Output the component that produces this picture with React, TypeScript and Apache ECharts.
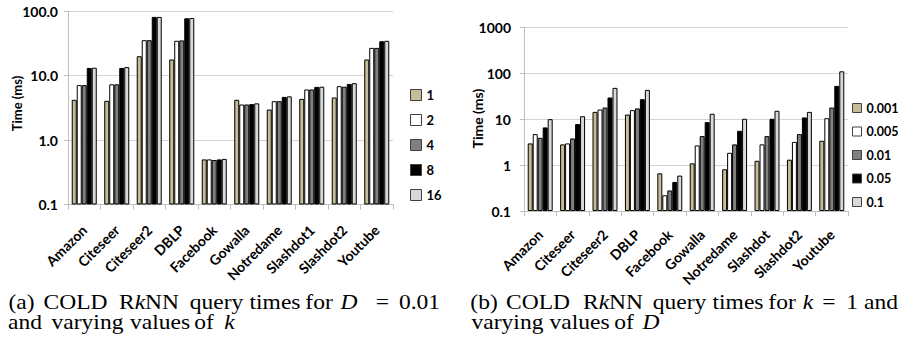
import React, { useEffect, useRef } from 'react';
import * as echarts from 'echarts';

const categoriesA = ['Amazon', 'Citeseer', 'Citeseer2', 'DBLP', 'Facebook', 'Gowalla', 'Notredame', 'Slashdot1', 'Slashdot2', 'Youtube'];
const namesA = ['1', '2', '4', '8', '16'];
const kEq1 = [4.2, 4.05, 19.9, 17.7, 0.5, 4.2, 2.97, 4.34, 4.56, 17.7];
const kEq2 = [7.1, 7.3, 35.3, 34.5, 0.5, 3.55, 4.0, 6.07, 6.83, 26.8];
const kEq4 = [7.1, 7.3, 35.3, 35.0, 0.49, 3.55, 4.0, 6.07, 6.7, 26.8];
const kEq8 = [13.1, 13.1, 81, 77, 0.5, 3.6, 4.66, 6.66, 7.4, 34];
const kEq16 = [13.2, 13.5, 81, 78, 0.51, 3.7, 4.75, 6.7, 7.6, 34.5];

const categoriesB = ['Amazon', 'Citeseer', 'Citeseer2', 'DBLP', 'Facebook', 'Gowalla', 'Notredame', 'Slashdot', 'Slashdot2', 'Youtube'];
const namesB = ['0.001', '0.005', '0.01', '0.05', '0.1'];
const dEq001 = [2.96, 2.82, 14.4, 12.6, 0.66, 1.09, 0.81, 1.24, 1.31, 3.38];
const dEq005 = [4.72, 2.96, 16.2, 15.7, 0.22, 2.68, 1.85, 2.82, 3.2, 10.5];
const dEq01 = [3.93, 3.8, 17.9, 17.1, 0.28, 4.27, 2.82, 4.27, 4.72, 17.9];
const dEq05 = [6.6, 7.8, 29.6, 27.2, 0.43, 8.6, 5.57, 10.2, 10.9, 53];
const dEq1 = [10, 11.6, 48, 43.4, 0.59, 13.1, 10.2, 15.2, 14.4, 110];

const ticksA = ['0.1', '1.0', '10.0', '100.0'];
const ticksB = ['0.1', '1', '10', '100', '1000'];

const seriesA = [kEq1, kEq2, kEq4, kEq8, kEq16];
const seriesB = [dEq001, dEq005, dEq01, dEq05, dEq1];
const colors = ['#c4bd97', '#ffffff', '#808080', '#000000', '#d9d9d9'];

const labelFont = 'Lato, "Open Sans", sans-serif';
const serif = '"Liberation Serif", serif';
const capSize = 21;

// caption words: [text (rich markup), centre x]
const captionA1: [string, number][] = [
  ['(a)', 21.5], ['COLD', 75.5], ['R{i|k}NN', 149], ['query', 216.5], ['times', 275], ['for', 319], ['{i|D}', 349], ['=', 382.5], ['0.01', 419.5],
];
const captionA2: [string, number][] = [['and', 25], ['varying', 87.5], ['values', 160], ['of', 204], ['{i|k}', 229.5]];
const captionB1: [string, number][] = [
  ['(b)', 484], ['COLD', 538], ['R{i|k}NN', 613], ['query', 679.5], ['times', 738], ['for', 782], ['{i|k}', 808], ['=', 829], ['1', 852], ['and', 881],
];
const captionB2: [string, number][] = [['varying', 507.5], ['values', 579.5], ['of', 624], ['{i|D}', 651]];

function captionLine(words: [string, number][], y: number) {
  return words.map(([w, x]) => ({
    type: 'text',
    x,
    y,
    scaleX: 1.12,
    style: {
      text: w.replace(/(^|\})([^{}]+)(?=\{|$)/g, (m, a, b) => `${a}{n|${b}}`),
      rich: {
        n: { fontFamily: serif, fontSize: capSize, fill: '#000', lineHeight: 19 },
        i: { fontFamily: serif, fontSize: capSize, fontStyle: 'italic', fill: '#000', lineHeight: 19 },
      },
      align: 'center',
      verticalAlign: 'middle',
    },
  }));
}

function tickLabel(list: string[]) {
  return (v: number) => {
    const e = Math.round(Math.log10(v)) + 1;
    return list[e] ?? '';
  };
}

function makeX(idx: number, cats: string[], margin: number) {
  return {
    type: 'category',
    gridIndex: idx,
    data: cats,
    axisLine: { lineStyle: { color: '#bfbfbf', width: 1 } },
    axisTick: { show: true, length: 5, lineStyle: { color: '#bfbfbf' } },
    axisLabel: {
      rotate: 45,
      margin,
      color: '#000',
      fontFamily: labelFont,
      fontWeight: 'bold',
      fontSize: 14,
      interval: 0,
    },
  };
}

function makeY(idx: number, max: number, ticks: string[], margin: number) {
  return {
    type: 'log',
    logBase: 10,
    gridIndex: idx,
    min: 0.1,
    max,
    startValue: 0.1,
    axisLine: { show: true, lineStyle: { color: '#bfbfbf', width: 1 } },
    axisTick: { show: true, length: 4, lineStyle: { color: '#bfbfbf' } },
    splitLine: { show: true, lineStyle: { color: '#d4d4d4', width: 1 } },
    minorTick: { show: false },
    axisLabel: {
      formatter: tickLabel(ticks),
      color: '#000',
      fontFamily: labelFont,
      fontWeight: 'bold',
      fontSize: 14,
      margin,
    },
  };
}

function makeSeries(names: string[], data: number[][], idx: number) {
  return names.map((n, i) => ({
    type: 'bar',
    name: n,
    xAxisIndex: idx,
    yAxisIndex: idx,
    data: data[i],
    barGap: '0%',
    barCategoryGap: '23%',
    itemStyle: { color: colors[i], borderColor: '#000', borderWidth: 1 },
  }));
}

export default function App() {
  const ref = useRef<HTMLDivElement>(null);
  useEffect(() => {
    const chart = echarts.init(ref.current!, null, { renderer: 'svg' });
    const option = {
      animation: false,
      backgroundColor: '#fff',
      textStyle: { fontFamily: labelFont },
      grid: [
        { left: 68, top: 11, width: 325, height: 193.5 },
        { left: 524, top: 27.3, width: 324, height: 183.7 },
      ],
      xAxis: [makeX(0, categoriesA, 23), makeX(1, categoriesB, 21)],
      yAxis: [makeY(0, 100, ticksA, 10), makeY(1, 1000, ticksB, 13)],
      legend: [
        {
          data: namesA,
          orient: 'vertical',
          left: 405,
          top: 83,
          itemWidth: 11,
          itemHeight: 11,
          itemGap: 11,
          icon: 'rect',
          itemStyle: { borderColor: '#404040', borderWidth: 1 },
          textStyle: { fontFamily: labelFont, fontWeight: 'bold', fontSize: 13, color: '#000', lineHeight: 14 },
          selectedMode: false,
        },
        {
          data: namesB,
          orient: 'vertical',
          left: 847,
          top: 96,
          itemWidth: 9,
          itemHeight: 9,
          itemGap: 9.5,
          icon: 'rect',
          itemStyle: { borderColor: '#404040', borderWidth: 1 },
          textStyle: { fontFamily: labelFont, fontWeight: 'bold', fontSize: 12.5, color: '#000', lineHeight: 14 },
          selectedMode: false,
        },
      ],
      series: [...makeSeries(namesA, seriesA, 0), ...makeSeries(namesB, seriesB, 1)],
      graphic: [
        {
          type: 'text', x: 17, y: 103.5, rotation: Math.PI / 2,
          style: { text: 'Time (ms)', fontFamily: labelFont, fontWeight: 'bold', fontSize: 13, fill: '#000', align: 'center', verticalAlign: 'middle' },
        },
        {
          type: 'text', x: 477.5, y: 118.6, rotation: Math.PI / 2,
          style: { text: 'Time (ms)', fontFamily: labelFont, fontWeight: 'bold', fontSize: 14, fill: '#000', align: 'center', verticalAlign: 'middle' },
        },
        ...captionLine(captionA1, 301.8),
        ...captionLine(captionA2, 321.5),
        ...captionLine(captionB1, 301.8),
        ...captionLine(captionB2, 321.5),
      ],
    };
    chart.setOption(option as any);
    return () => chart.dispose();
  }, []);
  return <div ref={ref} style={{ position: 'absolute', left: 0, top: 0, width: 898, height: 347, background: '#fff' }} />;
}
